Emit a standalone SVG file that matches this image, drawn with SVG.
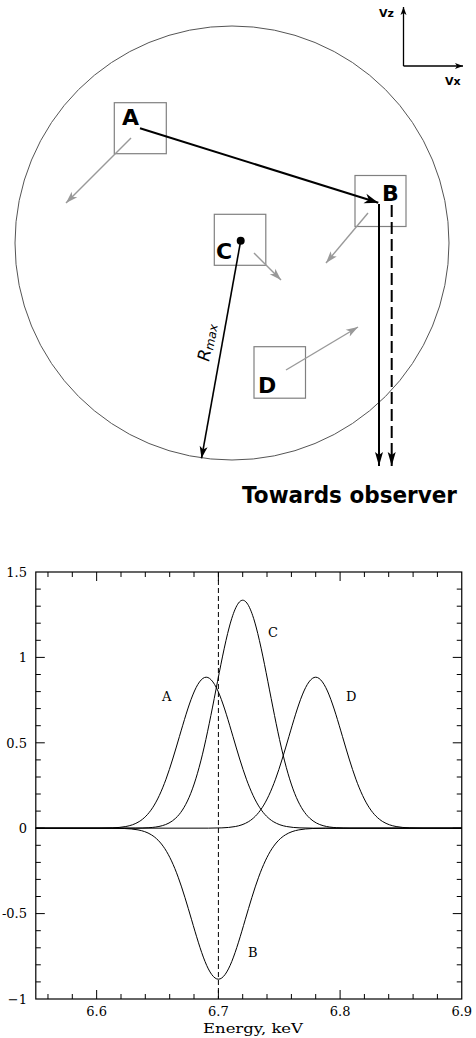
<svg xmlns="http://www.w3.org/2000/svg" xmlns:xlink="http://www.w3.org/1999/xlink" width="476" height="1038" viewBox="0 0 476 1038">
<style>
.box{fill:none;stroke:#808080;stroke-width:1.2}
.lbl{font-family:"DejaVu Sans",sans-serif;font-weight:bold;font-size:22px;fill:#000}
.ax{font-family:"DejaVu Sans",sans-serif;font-weight:bold;font-size:11px;fill:#000}
.gr{stroke:#999;stroke-width:1.4;fill:none;marker-end:url(#mG)}
.bk{stroke:#000;stroke-width:2;fill:none}
.tk{font-family:"DejaVu Serif",serif;font-size:13px;fill:#000}
.crv{fill:none;stroke:#000;stroke-width:1}
</style>
<defs>
<marker id="mB" viewBox="-15 -6 16 12" markerWidth="16" markerHeight="12" refX="0" refY="0" orient="auto" markerUnits="userSpaceOnUse"><path d="M0,0 L-14,-5 L-10,0 L-14,5 Z" fill="#000"/></marker>
<marker id="mD" viewBox="-15 -6 16 12" markerWidth="16" markerHeight="12" refX="0" refY="0" orient="auto" markerUnits="userSpaceOnUse"><path d="M0,0 L-14,-4 L-11,0 L-14,4 Z" fill="#000"/></marker>
<marker id="mR" viewBox="-13 -5 14 10" markerWidth="14" markerHeight="10" refX="0" refY="0" orient="auto" markerUnits="userSpaceOnUse"><path d="M0,0 L-12,-4 L-9,0 L-12,4 Z" fill="#000"/></marker>
<marker id="mG" viewBox="-13 -5 14 10" markerWidth="14" markerHeight="10" refX="0" refY="0" orient="auto" markerUnits="userSpaceOnUse"><path d="M0,0 L-12,-4 L-9,0 L-12,4 Z" fill="#999"/></marker>
<marker id="mA" viewBox="-9 -4 10 8" markerWidth="10" markerHeight="8" refX="0" refY="0" orient="auto" markerUnits="userSpaceOnUse"><path d="M0,0 L-8,-3 L-6,0 L-8,3 Z" fill="#000"/></marker>
<path id="gauss" vector-effect="non-scaling-stroke" d="M-40,0 L-4,-0.000335 C-3.8333,-0.000558 -3.6667,-0.000911 -3.5,-0.002187 C-3.3333,-0.003463 -3.1667,-0.005555 -3,-0.01111 C-2.8333,-0.016665 -2.6667,-0.025632 -2.5,-0.04394 C-2.3333,-0.062248 -2.1667,-0.090228 -2,-0.13534 C-1.8333,-0.180452 -1.6667,-0.243487 -1.5,-0.32465 C-1.3333,-0.405813 -1.1667,-0.505442 -1,-0.60653 C-0.8333,-0.707618 -0.6667,-0.808958 -0.5,-0.8825 C-0.3333,-0.956042 -0.1667,-1 0,-1 C0.1667,-1 0.3333,-0.956042 0.5,-0.8825 C0.6667,-0.808958 0.8333,-0.707618 1,-0.60653 C1.1667,-0.505442 1.3333,-0.405813 1.5,-0.32465 C1.6667,-0.243487 1.8333,-0.180452 2,-0.13534 C2.1667,-0.090228 2.3333,-0.062248 2.5,-0.04394 C2.6667,-0.025632 2.8333,-0.016665 3,-0.01111 C3.1667,-0.005555 3.3333,-0.003463 3.5,-0.002187 C3.6667,-0.000911 3.8333,-0.000558 4,-0.000335 L40,0"/>
<clipPath id="plotclip"><rect x="35.8" y="560" width="426" height="450"/></clipPath>
</defs>

<!-- top diagram -->
<circle id="sphere" cx="232" cy="243" r="217" fill="none" stroke="#555" stroke-width="1"/>

<g id="axes-v">
<line x1="403.5" y1="66" x2="403.5" y2="7" stroke="#000" stroke-width="1.3" marker-end="url(#mA)"/>
<line x1="403.5" y1="66" x2="463" y2="66" stroke="#000" stroke-width="1.3" marker-end="url(#mA)"/>
<text class="ax" x="379" y="17">Vz</text>
<text class="ax" x="445" y="85">Vx</text>
</g>

<g id="node-A"><rect class="box" x="114.3" y="102.7" width="52" height="51"/><text class="lbl" x="122" y="125">A</text></g>
<g id="node-B"><rect class="box" x="355" y="175.5" width="51" height="51"/><text class="lbl" x="382" y="201">B</text></g>
<g id="node-C"><rect class="box" x="214.3" y="214.3" width="51.5" height="51"/><text class="lbl" x="216" y="259">C</text><circle cx="240.7" cy="240.7" r="4" fill="#000"/></g>
<g id="node-D"><rect class="box" x="254" y="346.7" width="51.5" height="51.5"/><text class="lbl" x="258" y="393">D</text></g>

<g id="connectors">
<line class="gr" x1="131" y1="138" x2="66" y2="203"/>
<line class="gr" x1="368" y1="213" x2="326" y2="263"/>
<line class="gr" x1="254" y1="253" x2="281" y2="280"/>
<line class="gr" x1="286" y1="370" x2="358" y2="327"/>
<line class="bk" x1="140" y1="128.3" x2="378.3" y2="202.7" marker-end="url(#mB)"/>
<line class="bk" x1="379" y1="204" x2="379" y2="466" marker-end="url(#mD)"/>
<line class="bk" x1="391.7" y1="205" x2="391.7" y2="466" stroke-dasharray="12,5" marker-end="url(#mD)"/>
<line x1="240.7" y1="240.7" x2="201.5" y2="458.3" stroke="#000" stroke-width="1.6" marker-end="url(#mR)"/>
</g>

<text id="rmax" transform="translate(209,362) rotate(-79.6)" font-family="DejaVu Sans, sans-serif" font-style="italic" font-size="17">R<tspan font-size="12" dy="2">max</tspan></text>

<text id="towards" x="242" y="503" font-family="DejaVu Sans, sans-serif" font-weight="bold" font-size="23" textLength="215" lengthAdjust="spacingAndGlyphs">Towards observer</text>

<!-- plot -->
<g id="plot-frame">
<rect x="35.8" y="572" width="425.95" height="427" fill="none" stroke="#000" stroke-width="1.2"/>
<path stroke="#000" stroke-width="1" fill="none" d="
M96.65,999v-9M218.4,999v-9M340.1,999v-9
M47.97,999v-5M72.3,999v-5M121,999v-5M145.3,999v-5M169.7,999v-5M194,999v-5M242.7,999v-5M267,999v-5M291.4,999v-5M315.7,999v-5M364.4,999v-5M388.7,999v-5M413.1,999v-5M437.4,999v-5
M96.65,572v9M218.4,572v9M340.1,572v9
M47.97,572v5M72.3,572v5M121,572v5M145.3,572v5M169.7,572v5M194,572v5M242.7,572v5M267,572v5M291.4,572v5M315.7,572v5M364.4,572v5M388.7,572v5M413.1,572v5M437.4,572v5
M35.8,913.6h9M35.8,828.2h9M35.8,742.8h9M35.8,657.4h9
M35.8,981.9h5M35.8,964.8h5M35.8,947.8h5M35.8,930.7h5M35.8,896.5h5M35.8,879.4h5M35.8,862.4h5M35.8,845.3h5M35.8,811.1h5M35.8,794h5M35.8,777h5M35.8,759.9h5M35.8,725.7h5M35.8,708.6h5M35.8,691.6h5M35.8,674.5h5M35.8,640.3h5M35.8,623.2h5M35.8,606.2h5M35.8,589.1h5
M461.75,913.6h-9M461.75,828.2h-9M461.75,742.8h-9M461.75,657.4h-9
M461.75,981.9h-5M461.75,964.8h-5M461.75,947.8h-5M461.75,930.7h-5M461.75,896.5h-5M461.75,879.4h-5M461.75,862.4h-5M461.75,845.3h-5M461.75,811.1h-5M461.75,794h-5M461.75,777h-5M461.75,759.9h-5M461.75,725.7h-5M461.75,708.6h-5M461.75,691.6h-5M461.75,674.5h-5M461.75,640.3h-5M461.75,623.2h-5M461.75,606.2h-5M461.75,589.1h-5"/>
<g class="tk" text-anchor="end">
<text x="27" y="576.7">1.5</text>
<text x="27" y="662.1">1</text>
<text x="27" y="747.5">0.5</text>
<text x="27" y="832.9">0</text>
<text x="27" y="918.3">-0.5</text>
<text x="27" y="1003.7">−1</text>
</g>
<g class="tk" text-anchor="middle">
<text x="96.65" y="1016">6.6</text>
<text x="218.4" y="1016">6.7</text>
<text x="340.1" y="1016">6.8</text>
<text x="461.75" y="1016">6.9</text>
</g>
<text class="tk" x="253" y="1033" text-anchor="middle" textLength="100" lengthAdjust="spacingAndGlyphs">Energy, keV</text>
</g>

<line id="e0" x1="218.4" y1="572" x2="218.4" y2="999" stroke="#000" stroke-width="1" stroke-dasharray="5,3"/>

<g id="curves" clip-path="url(#plotclip)">
<use id="curve-A" xlink:href="#gauss" class="crv" transform="translate(206.2,828.2) scale(26.8,151)"/>
<use id="curve-C" xlink:href="#gauss" class="crv" transform="translate(242.7,828.2) scale(26.8,228)"/>
<use id="curve-D" xlink:href="#gauss" class="crv" transform="translate(315.7,828.2) scale(26.8,151)"/>
<use id="curve-B" xlink:href="#gauss" class="crv" transform="translate(218.4,828.2) scale(26.8,-151)"/>
</g>

<g class="tk">
<text x="162" y="701">A</text>
<text x="268" y="637">C</text>
<text x="346" y="701">D</text>
<text x="248" y="957">B</text>
</g>
</svg>
